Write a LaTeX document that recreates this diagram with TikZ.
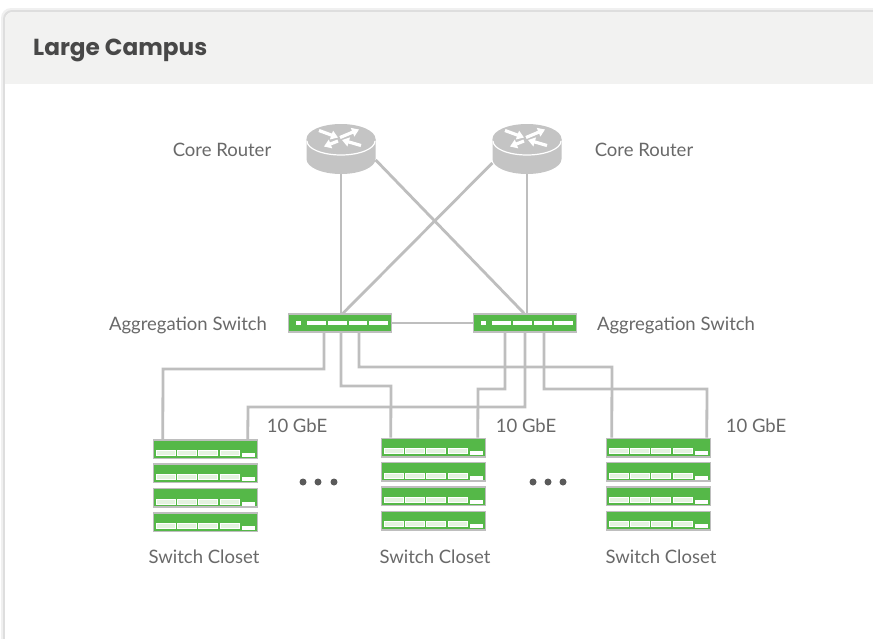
\documentclass[tikz,border=0pt]{standalone}
\usepackage{fontspec}
\setmainfont{Lato}
\newfontfamily\titlefont{Poppins}
\usetikzlibrary{positioning,arrows.meta}
\definecolor{panelgrey}{RGB}{242,242,241}
\definecolor{shadowgrey}{RGB}{222,222,222}
\definecolor{linegrey}{RGB}{190,190,190}
\definecolor{routergrey}{RGB}{196,196,196}
\definecolor{switchgreen}{RGB}{85,184,72}
\definecolor{titlegrey}{RGB}{72,72,72}
\definecolor{labelgrey}{RGB}{105,105,105}
\definecolor{portgreen}{RGB}{228,243,224}

\begin{document}
\begin{tikzpicture}[x=1pt,y=-1pt,
        link/.style={draw=linegrey, line width=2.8pt},
        routerarrow/.style={draw=white, line width=3.2pt, -{Triangle[width=9pt,length=7pt]}},
        textlabel/.style={text=labelgrey, font=\fontsize{18.5}{22}\selectfont, inner sep=0pt},
        routernode/.style={minimum width=69pt, minimum height=50pt, inner sep=0pt, path picture={
            \begin{scope}[shift={(path picture bounding box.center)}]
            \fill[routergrey] (-34.5,-10) -- (-34.5,10) arc[start angle=180,end angle=360,x radius=34.5,y radius=-15] -- (34.5,-10) -- cycle;
            \fill[routergrey] (0,-10) ellipse[x radius=34.5,y radius=15];
            \draw[white,line width=1.2pt] (-34,-8) arc[start angle=180,end angle=360,x radius=34,y radius=-14];
            \draw[routerarrow] (-22,-18.5) -- (-3,-11.5);
            \draw[routerarrow] (-1,-11.5) -- (18,-19.5);
            \draw[routerarrow] (-3,-8) -- (-17,-2.5);
            \draw[routerarrow] (20,-3.5) -- (1,-9);
            \end{scope}}},
        aggnode/.style={draw=linegrey, line width=1.5pt, fill=switchgreen, minimum width=103pt, minimum height=18pt, inner sep=0pt, path picture={
            \begin{scope}[shift={(path picture bounding box.center)}]
            \fill[white] (-44,-2.2) rectangle (-39,2.2);
            \foreach \barx in {-33,-12,8.5,29}
                \fill[white] (\barx,-2.2) rectangle (\barx+18.5,2.2);
            \end{scope}}},
        unitnode/.style={draw=linegrey, line width=1.5pt, fill=switchgreen, minimum width=104pt, minimum height=18.5pt, inner sep=0pt, path picture={
            \begin{scope}[shift={(path picture bounding box.center)}]
            \foreach \portx in {-49.5,-28.5,-7.5,14.5}{
                \fill[portgreen] (\portx,1) rectangle (\portx+19.5,6);
                \draw[white,line width=0.5pt] (\portx,1) rectangle (\portx+19.5,6);
            }
            \fill[white] (36.5,3.7) rectangle (49.5,7.7);
            \end{scope}}},
        dotnode/.style={circle, fill=titlegrey!90, minimum size=7pt, inner sep=0pt}]
        % panel
        \useasboundingbox (0,0) rectangle (873,638);
        \fill[white] (0,0) rectangle (873,638);
        \fill[shadowgrey!45, rounded corners=10pt] (1,660) -- (1,8) -- (900,8) -- (900,660) -- cycle;
        \fill[shadowgrey, rounded corners=9pt] (3,660) -- (3,10) -- (900,10) -- (900,660) -- cycle;
        \fill[white, rounded corners=8pt] (5,660) -- (5,12) -- (900,12) -- (900,660) -- cycle;
        \begin{scope}
        \clip (0,0) rectangle (873,83);
        \fill[panelgrey, rounded corners=8pt] (5,660) -- (5,12) -- (900,12) -- (900,660) -- cycle;
        \end{scope}
        \node[text=titlegrey, font=\titlefont\fontsize{23.2}{27}\selectfont\bfseries, inner sep=0pt, anchor=west] (title) at (33,50) {Large Campus};
        % routers
        \node[routernode] (router1) at (341,149) {};
        \node[routernode] (router2) at (527,149) {};
        \node[textlabel] (routerlabel1) at (222,149.5) {Core Router};
        \node[textlabel] (routerlabel2) at (644,149.5) {Core Router};
        % aggregation
        \node[aggnode] (agg1) at (340,323) {};
        \node[aggnode] (agg2) at (525,323) {};
        \node[textlabel] (agglabel1) at (188,325) {Aggregation Switch};
        \node[textlabel] (agglabel2) at (676,325) {Aggregation Switch};
        % closets
        \foreach \name/\posx/\posy in {a/205.5/449,b/433.5/447.5,c/658.5/447.5}{
            \foreach \i in {1,2,3,4}
                \node[unitnode] (\name\i) at (\posx,\posy+24.4*\i-24.4) {};
        }
        \node[textlabel] (closetlabel1) at (204,556.5) {Switch Closet};
        \node[textlabel] (closetlabel2) at (435,556.5) {Switch Closet};
        \node[textlabel] (closetlabel3) at (661,556.5) {Switch Closet};
        \node[textlabel] (gbe1) at (297,425.5) {10 GbE};
        \node[textlabel] (gbe2) at (526,425.5) {10 GbE};
        \node[textlabel] (gbe3) at (756,425.5) {10 GbE};
        \foreach \dotx in {303,318,334}
            \node[dotnode] (dotsa\dotx) at (\dotx,482) {};
        \foreach \dotx in {533,548,563}
            \node[dotnode] (dotsb\dotx) at (\dotx,482) {};
        % links
        \draw[link] (router1.south) -- (agg1.north -| router1.south);
        \draw[link] (router2.south) -- (agg2.north -| router2.south);
        \draw[link] ([yshift=-11pt]router1.east) -- ([xshift=-1pt]agg2.north);
        \draw[link] ([yshift=-14pt]router2.west) -- ([xshift=3pt]agg1.north);
        \draw[link] (agg1) -- (agg2);
        \draw[link] ([xshift=-16pt]agg1.south) |- (163,369) -- ([xshift=10pt]a1.north west);
        \draw[link] ([xshift=1pt]agg1.south) |- (391,386) -- ([xshift=10pt]b1.north west);
        \draw[link] ([xshift=19pt]agg1.south) |- (612,367) -- ([xshift=6pt]c1.north west);
        \draw[link] ([xshift=-20pt]agg2.south) |- (478,389) -- ([xshift=97pt]b1.north west);
        \draw[link] (agg2.south) |- (248,407) -- ([xshift=95pt]a1.north west);
        \draw[link] ([xshift=19pt]agg2.south) |- (707,389) -- ([xshift=101pt]c1.north west);
\end{tikzpicture}
\end{document}
